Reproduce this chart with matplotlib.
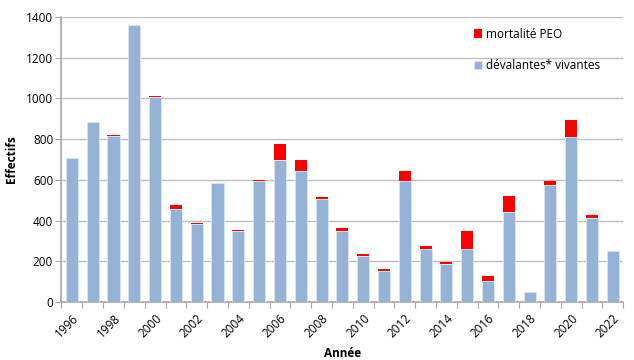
import numpy as np
import matplotlib
matplotlib.use('Agg')
import matplotlib.pyplot as plt

# data
years = list(range(1996, 2023))
vivantes = [706, 882, 815, 1362, 1005, 455, 385, 583, 350, 593, 697, 642, 505, 350,
            228, 154, 596, 262, 188, 260, 103, 444, 48, 575, 808, 415, 249]
mortalite = [0, 0, 3, 0, 5, 22, 4, 0, 3, 5, 77, 55, 9, 12,
             8, 6, 48, 15, 10, 87, 25, 77, 0, 20, 88, 10, 0]

plt.rcParams['font.family'] = ['Open Sans', 'DejaVu Sans']

fig = plt.figure(figsize=(6.34, 3.6), dpi=100)
ax = fig.add_axes([0.097, 0.161, 0.886, 0.792])

x = np.arange(len(years))
grey = '#A6A6A6'
ax.bar(x, vivantes, width=0.58, color='#95B3D7', edgecolor='#DCE6F2', linewidth=0.6,
       label='dévalantes* vivantes', zorder=3)
ax.bar(x, mortalite, width=0.58, bottom=vivantes, color='#FF0000', linewidth=0,
       label='mortalité PEO', zorder=3)

ax.set_xlim(-0.5, len(years) - 0.5)
ax.set_ylim(0, 1400)
ax.set_yticks(range(0, 1401, 200))
ax.yaxis.grid(True, color='#BFBFBF', linewidth=1.0, zorder=0)
ax.tick_params(axis='y', labelsize=8.5, length=4, color=grey, pad=2)

# ticks between categories, labels every other year
ax.set_xticks(np.arange(-0.5, len(years), 1.0), minor=False)
ax.set_xticklabels([])
ax.set_xticks(x[::2], minor=True)
ax.set_xticklabels([str(y) for y in years[::2]], minor=True, rotation=45,
                   ha='right', rotation_mode='anchor', fontsize=8.5)
ax.tick_params(axis='x', which='major', length=4, color=grey)
ax.tick_params(axis='x', which='minor', length=0, pad=7)

for s in ['top', 'right']:
    ax.spines[s].set_visible(False)
for s in ['left', 'bottom']:
    ax.spines[s].set_color(grey)
    ax.spines[s].set_linewidth(1.2)

ax.set_ylabel('Effectifs', fontsize=8.5, fontweight='bold', labelpad=6)
ax.set_xlabel('Année', fontsize=8.5, fontweight='bold', labelpad=5)

h, l = ax.get_legend_handles_labels()
ax.legend(h[::-1], l[::-1], loc='upper left', bbox_to_anchor=(0.715, 1.0),
          frameon=False, fontsize=8.5, handlelength=0.7, handleheight=0.7,
          handletextpad=0.3, labelspacing=1.6)

fig.savefig('out.png', dpi=100)
